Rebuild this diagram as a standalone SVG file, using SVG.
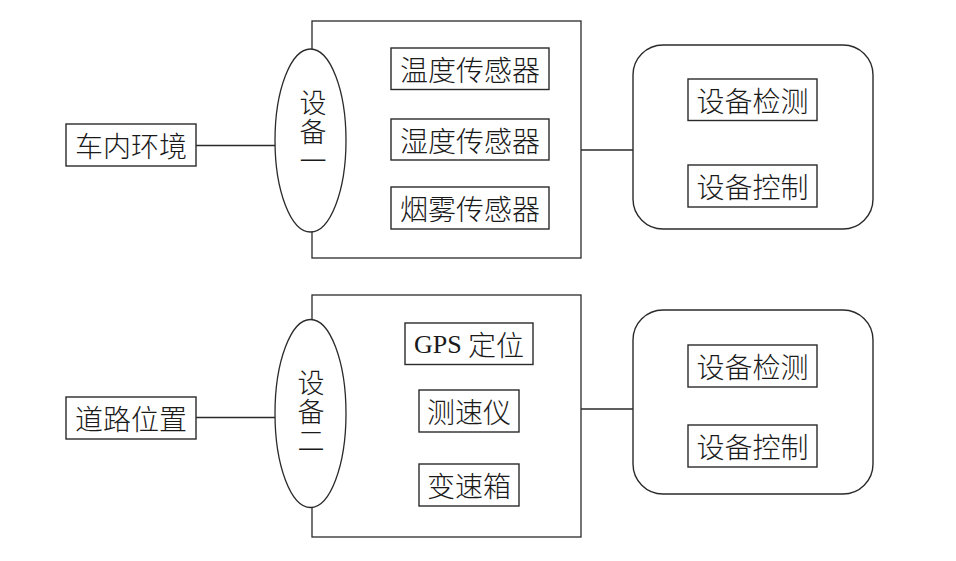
<svg xmlns="http://www.w3.org/2000/svg" width="956" height="561" viewBox="0 0 956 561">
<style>
.ln{fill:none;stroke:#2a2a2a;stroke-width:1.3}
.bx{fill:#fff;stroke:#2a2a2a;stroke-width:1.4}
.el{fill:#fff;stroke:#2a2a2a;stroke-width:1.3}
.t{font-family:"Noto Sans CJK SC","Liberation Serif",sans-serif;font-size:28px;font-weight:300;fill:#1a1a1a;text-anchor:middle;dominant-baseline:central}
.v{font-family:"Noto Sans CJK SC",sans-serif;font-size:27px;font-weight:300;fill:#1a1a1a;text-anchor:middle;writing-mode:vertical-rl;letter-spacing:2px}
.g{font-family:"Liberation Serif",serif;font-size:26px}
</style>
<rect width="956" height="561" fill="#fff"/>
<g id="connectors">
  <line class="ln" x1="196" y1="145.5" x2="275" y2="145.5"/>
  <line class="ln" x1="196" y1="417.5" x2="275" y2="417.5"/>
  <line class="ln" x1="581" y1="150" x2="633" y2="150"/>
  <line class="ln" x1="581" y1="409" x2="633" y2="409"/>
</g>
<g id="group1-frame"><rect class="ln" x="312" y="21" width="269" height="237"/></g>
<g id="group2-frame"><rect class="ln" x="312" y="295" width="269" height="242"/></g>
<g id="env">
  <rect class="bx" x="66" y="124" width="130" height="42"/>
  <text class="t" x="131" y="145">车内环境</text>
</g>
<g id="road">
  <rect class="bx" x="66" y="397" width="130" height="42"/>
  <text class="t" x="131" y="418">道路位置</text>
</g>
<g id="device1">
  <ellipse class="el" cx="310.5" cy="140.5" rx="35.5" ry="91.5"/>
  <text class="v" x="313" y="133">设备一</text>
</g>
<g id="device2">
  <ellipse class="el" cx="310.5" cy="413.5" rx="35.5" ry="94"/>
  <text class="v" x="311" y="413">设备二</text>
</g>
<g id="temp">
  <rect class="bx" x="391" y="48" width="158" height="41.5"/>
  <text class="t" x="470" y="68.5">温度传感器</text>
</g>
<g id="humid">
  <rect class="bx" x="391" y="119" width="158" height="41"/>
  <text class="t" x="470" y="139.5">湿度传感器</text>
</g>
<g id="smoke">
  <rect class="bx" x="391" y="187" width="158" height="42"/>
  <text class="t" x="470" y="208">烟雾传感器</text>
</g>
<g id="gps">
  <rect class="bx" x="405" y="323" width="128" height="41.5"/>
  <text class="t" x="469" y="343.5"><tspan class="g">GPS</tspan> 定位</text>
</g>
<g id="speedometer">
  <rect class="bx" x="419" y="390" width="100" height="42"/>
  <text class="t" x="469" y="411">测速仪</text>
</g>
<g id="gearbox">
  <rect class="bx" x="419" y="464" width="100" height="42"/>
  <text class="t" x="469" y="485">变速箱</text>
</g>
<g id="panel1">
  <rect class="bx" x="633" y="45" width="240" height="184" rx="30" ry="30"/>
  <g id="detect1">
    <rect class="bx" x="688" y="79" width="129" height="41.5"/>
    <text class="t" x="752.5" y="100">设备检测</text>
  </g>
  <g id="control1">
    <rect class="bx" x="688" y="165" width="129" height="42"/>
    <text class="t" x="752.5" y="186">设备控制</text>
  </g>
</g>
<g id="panel2">
  <rect class="bx" x="633" y="310" width="240" height="184" rx="30" ry="30"/>
  <g id="detect2">
    <rect class="bx" x="688" y="345" width="129" height="42"/>
    <text class="t" x="752.5" y="366">设备检测</text>
  </g>
  <g id="control2">
    <rect class="bx" x="688" y="425" width="129" height="42"/>
    <text class="t" x="752.5" y="446">设备控制</text>
  </g>
</g>
</svg>
